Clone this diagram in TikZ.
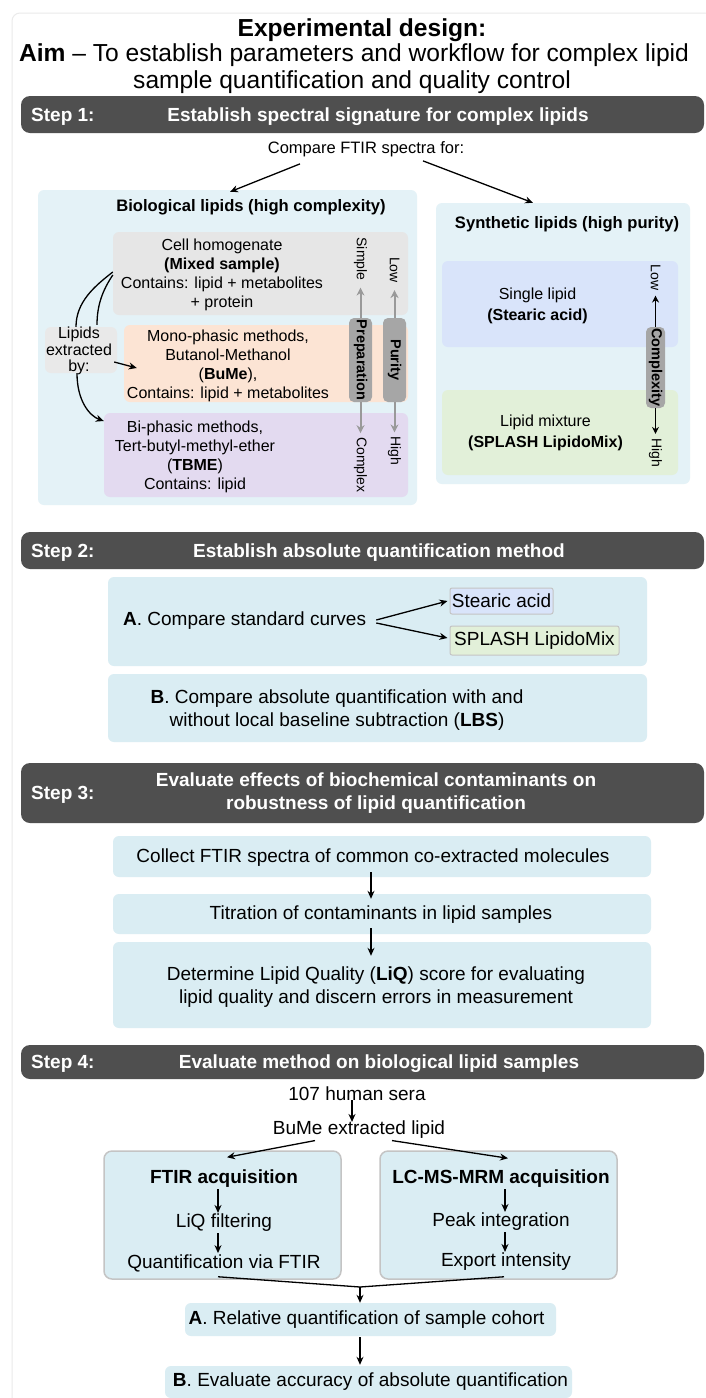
\documentclass[tikz,border=0pt]{standalone}
\usepackage{fontspec}
\setmainfont{Liberation Sans}
\usetikzlibrary{arrows.meta}
\definecolor{barc}{HTML}{4F4F4F}
\definecolor{stepbg}{HTML}{DAEDF3}
\definecolor{panelbg}{HTML}{E4F2F7}
\definecolor{cellbg}{HTML}{E6E6E6}
\definecolor{extbg}{HTML}{E9E9E9}
\definecolor{orangebg}{HTML}{FCE4D4}
\definecolor{purplebg}{HTML}{E3DAF0}
\definecolor{bluebg}{HTML}{D9E4FA}
\definecolor{greenbg}{HTML}{E2F0D9}
\definecolor{pillc}{HTML}{A6A6A6}
\definecolor{garrc}{HTML}{999999}
\definecolor{framec}{HTML}{EBEBEB}
\definecolor{boxline}{HTML}{C4C4C4}
\newcommand\fsTitle{\fontsize{24.6}{27}\selectfont}
\newcommand\fsBar{\fontsize{19}{23}\selectfont}
\newcommand\fsOne{\fontsize{16}{19}\selectfont}
\newcommand\fsPanel{\fontsize{16.6}{19}\selectfont}
\newcommand\fsCmp{\fontsize{16.5}{19}\selectfont}
\newcommand\fsMain{\fontsize{19}{23.5}\selectfont}
\newcommand\fsPill{\fontsize{14.5}{16}\selectfont}
\newcommand\fsSide{\fontsize{14}{16}\selectfont}
\begin{document}
\begin{tikzpicture}[x=1pt,y=-1pt,
  bar/.style={fill=barc, rounded corners=9pt, inner sep=0pt},
  bartxt/.style={text=white, font=\fsBar\bfseries, inner sep=0pt, align=center},
  panel/.style={fill=panelbg, rounded corners=6pt, inner sep=0pt},
  flat/.style={rounded corners=6pt, inner sep=0pt},
  txt/.style={inner sep=0pt, align=center},
  arr/.style={-{Stealth[length=8pt,width=7pt]}, line width=1.3pt},
  garr/.style={-{Stealth[length=8pt,width=8pt]}, draw=garrc, line width=2pt},
  karr/.style={-{Stealth[length=7pt,width=7pt]}, line width=1.6pt},
  pill/.style={fill=pillc, rounded corners=5pt, font=\fsPill\bfseries, inner sep=0pt},
  side/.style={font=\fsSide, inner sep=0pt, rotate=-90},
]
\useasboundingbox (0,0) rectangle (705,1398);
\fill[white] (0,0) rectangle (705,1398);
\draw[framec, line width=1pt, rounded corners=8pt] (12,13) rectangle (740,1430);

% ---------- title ----------
\node[txt, font=\fsTitle\bfseries] (title) at (362,30) {Experimental design:};
\node[txt, font=\fsTitle] (aim) at (354,55) {\textbf{Aim} – To establish parameters and workflow for complex lipid};
\node[txt, font=\fsTitle] (aim2) at (352,82) {sample quantification and quality control};

% ---------- step 1 ----------
\node[bar, minimum width=683pt, minimum height=37pt] (bar1) at (362.5,114.5) {};
\node[bartxt, anchor=west] (s1) at (31,116.5) {Step 1:};
\node[bartxt] (t1) at (378,116.5) {Establish spectral signature for complex lipids};
\node[txt, font=\fsCmp] (cmp) at (366,149) {Compare FTIR spectra for:};

\node[panel, minimum width=379pt, minimum height=315pt] (bio) at (227.5,347.5) {};
\node[panel, minimum width=254pt, minimum height=281pt] (syn) at (563,343.5) {};
\draw[arr] ([xshift=-66pt,yshift=-7pt]cmp.south) -- ([xshift=2.5pt,yshift=-2pt]bio.north);
\draw[arr] ([xshift=57pt,yshift=-4pt]cmp.south) -- ([xshift=-30pt]syn.north);

\node[txt, font=\fsPanel\bfseries] (biot) at (251,207) {Biological lipids (high complexity)};
\node[txt, font=\fsPanel\bfseries] (synt) at (567,224) {Synthetic lipids (high purity)};

\node[flat, fill=cellbg, minimum width=295pt, minimum height=83pt] (cell) at (260.5,273.5) {};
\node[flat, fill=orangebg, minimum width=284pt, minimum height=77pt] (mono) at (266,363.5) {};
\node[flat, fill=purplebg, minimum width=304pt, minimum height=84pt] (bi) at (256,455) {};
\node[flat, fill=extbg, minimum width=72pt, minimum height=46pt] (ext) at (81,350) {};

\node[txt, font=\fsOne] (cellt) at (222,275) {Cell homogenate\\\textbf{(Mixed sample)}\\Contains: lipid + metabolites\\+ protein};
\node[txt, font=\fsOne] (monot) at (228,366) {Mono-phasic methods,\\Butanol-Methanol\\(\textbf{BuMe}),\\Contains: lipid + metabolites};
\node[txt, font=\fsOne] (bit) at (195,456.5) {Bi-phasic methods,\\Tert-butyl-methyl-ether\\(\textbf{TBME})\\Contains: lipid};
\node[txt, font=\fontsize{16}{16.5}\selectfont] (extt) at (79,351) {Lipids\\extracted\\by:};

\draw[line width=1.3pt] ([yshift=1.5pt]cell.west) .. controls +(-18,14) and +(0,-25) .. ([xshift=-5pt]ext.north);
\draw[line width=1.3pt] ([yshift=-1.5pt]cell.west) .. controls +(-10,15) and +(0,-20) .. ([xshift=16pt,yshift=2pt]ext.north);
\draw[arr] ([xshift=-3pt,yshift=-12pt]ext.east) -- ([xshift=13pt,yshift=-4.5pt]mono.west);
\draw[arr] ([xshift=-4pt]ext.south) .. controls +(0,28) and +(-14,-5) .. ([yshift=34pt]bi.west);

\node[pill, rotate=-90, minimum width=84pt, minimum height=23pt] (prep) at (360.5,360) {Preparation};
\node[pill, rotate=-90, minimum width=84pt, minimum height=23pt] (pur) at (394.5,360) {Purity};
\node[side] (simp) at (360.5,259) {Simple};
\node[side] (cplx) at (360.5,465) {Complex};
\node[side] (low1) at (394.5,270) {Low};
\node[side] (high1) at (394.5,451) {High};
\draw[garr, shorten >=7pt] (prep.west) -- (simp.east);
\draw[garr, shorten >=4pt] (prep.east) -- (cplx.west);
\draw[garr, shorten >=7pt] (pur.west) -- (low1.east);
\draw[garr, shorten >=4pt] (pur.east) -- (high1.west);

\node[flat, fill=bluebg, minimum width=236pt, minimum height=86pt] (single) at (560,304) {};
\node[flat, fill=greenbg, minimum width=236pt, minimum height=85pt] (mix) at (560,432.5) {};
\node[txt, font=\fontsize{16}{20.5}\selectfont] (singlet) at (537.5,306) {Single lipid\\\textbf{(Stearic acid)}};
\node[txt, font=\fontsize{16}{20.5}\selectfont] (mixt) at (545.5,433) {Lipid mixture\\\textbf{(SPLASH LipidoMix)}};
\node[pill, rotate=-90, minimum width=81pt, minimum height=19pt] (cpx) at (655.5,367.5) {Complexity};
\node[side] (low2) at (655.5,277.5) {Low};
\node[side] (high2) at (655.5,452.5) {High};
\draw[karr, shorten >=5pt] (cpx.west) -- (low2.east);
\draw[karr, shorten >=4pt] (cpx.east) -- (high2.west);

% ---------- step 2 ----------
\node[bar, minimum width=683pt, minimum height=37pt] (bar2) at (362.5,550.5) {};
\node[bartxt, anchor=west] (s2) at (31,552.5) {Step 2:};
\node[bartxt] (t2) at (379,552.5) {Establish absolute quantification method};

\node[flat, fill=stepbg, minimum width=539pt, minimum height=89pt] (boxA) at (377.5,621.5) {};
\node[txt, font=\fsMain, anchor=west] (cmpA) at (123,621) {\textbf{A}. Compare standard curves};
\node[fill=bluebg, draw=boxline, line width=1pt, rounded corners=2pt, inner sep=1pt, font=\fsMain, minimum width=103pt, minimum height=26pt] (stear) at (501.5,601) {Stearic acid};
\node[fill=greenbg, draw=boxline, line width=1pt, rounded corners=2pt, inner sep=1pt, font=\fsMain, minimum width=169pt, minimum height=29pt] (splash) at (534.5,640.5) {SPLASH LipidoMix};
\draw[arr] ([xshift=10pt,yshift=1pt]cmpA.east) -- ([xshift=-2pt]stear.west);
\draw[arr] ([xshift=10pt,yshift=-2pt]cmpA.east) -- ([xshift=-2pt,yshift=2.5pt]splash.west);

\node[flat, fill=stepbg, minimum width=539pt, minimum height=68pt] (boxB) at (377.5,708) {};
\node[txt, font=\fsMain] (cmpB) at (337,710) {\textbf{B}. Compare absolute quantification with and\\without local baseline subtraction (\textbf{LBS})};

% ---------- step 3 ----------
\node[bar, minimum width=683pt, minimum height=60pt] (bar3) at (362.5,793) {};
\node[bartxt, anchor=west] (s3) at (31,795) {Step 3:};
\node[bartxt] (t3) at (376,793.5) {Evaluate effects of biochemical contaminants on\\robustness of lipid quantification};

\node[flat, fill=stepbg, minimum width=538pt, minimum height=41pt] (coll) at (382,856.5) {};
\node[txt, font=\fsMain] (collt) at (373,858) {Collect FTIR spectra of common co-extracted molecules};
\node[flat, fill=stepbg, minimum width=538pt, minimum height=40pt] (titr) at (382,914) {};
\node[txt, font=\fsMain] (titrt) at (381,915) {Titration of contaminants in lipid samples};
\node[flat, fill=stepbg, minimum width=538pt, minimum height=86pt] (det) at (382,985) {};
\node[txt, font=\fsMain] (dett) at (376,987) {Determine Lipid Quality (\textbf{LiQ}) score for evaluating\\lipid quality and discern errors in measurement};
\draw[arr] ([xshift=-11pt,yshift=5pt]coll.south) -- ([xshift=-11pt,yshift=-5pt]titr.north);
\draw[arr] ([xshift=-11pt,yshift=6pt]titr.south) -- ([xshift=-11pt,yshift=-14pt]det.north);

% ---------- step 4 ----------
\node[bar, minimum width=683pt, minimum height=34pt] (bar4) at (362.5,1062) {};
\node[bartxt, anchor=west] (s4) at (31,1064) {Step 4:};
\node[bartxt] (t4) at (379,1064) {Evaluate method on biological lipid samples};

\node[txt, font=\fsMain] (sera) at (357,1094) {107 human sera};
\node[txt, font=\fsMain] (bume) at (359,1130) {BuMe extracted lipid};
\draw[arr] ([xshift=-5pt,yshift=1pt]sera.south) -- ([xshift=-7pt,yshift=-1pt]bume.north);

\node[flat, fill=stepbg, draw=boxline, line width=1.5pt, rounded corners=8pt, minimum width=237pt, minimum height=128pt] (ftirb) at (222.5,1215) {};
\node[flat, fill=stepbg, draw=boxline, line width=1.5pt, rounded corners=8pt, minimum width=237pt, minimum height=128pt] (lcb) at (498.5,1215) {};
\draw[arr] ([xshift=-44pt,yshift=-1.5pt]bume.south) -- ([xshift=4.5pt,yshift=-7pt]ftirb.north);
\draw[arr] ([xshift=33pt,yshift=-1.5pt]bume.south) -- ([xshift=9.5pt,yshift=-8pt]lcb.north);

\node[txt, font=\fsMain\bfseries] (ft1) at (224,1179) {FTIR acquisition};
\node[txt, font=\fsMain] (ft2) at (224,1223) {LiQ filtering};
\node[txt, font=\fsMain] (ft3) at (224,1263) {Quantification via FTIR};
\draw[arr] ([xshift=-6pt,yshift=-1pt]ft1.south) -- ([xshift=-6pt,yshift=1pt]ft2.north);
\draw[arr] ([xshift=-6pt,yshift=-1pt]ft2.south) -- ([xshift=-6pt,yshift=1pt]ft3.north);

\node[txt, font=\fsMain\bfseries] (lc1) at (501,1179) {LC-MS-MRM acquisition};
\node[txt, font=\fsMain] (lc2) at (501,1222) {Peak integration};
\node[txt, font=\fsMain] (lc3) at (506,1262) {Export intensity};
\draw[arr] ([xshift=4pt,yshift=-1pt]lc1.south) -- ([xshift=4pt,yshift=1pt]lc2.north);
\draw[arr] ([xshift=4pt,yshift=-1pt]lc2.south) -- ([xshift=-1pt,yshift=1pt]lc3.north);

\coordinate (mj) at (360,1287);
\node[flat, fill=stepbg, minimum width=371pt, minimum height=33pt] (resA) at (370.5,1319.5) {};
\node[txt, font=\fsMain] (resAt) at (366.5,1320) {\textbf{A}. Relative quantification of sample cohort};
\node[flat, fill=stepbg, minimum width=407pt, minimum height=32pt] (resB) at (368.5,1382) {};
\node[txt, font=\fsMain] (resBt) at (370.5,1382) {\textbf{B}. Evaluate accuracy of absolute quantification};

\draw[line width=1.3pt] ([xshift=-4.5pt,yshift=3pt]ftirb.south) -- (mj);
\draw[line width=1.3pt] ([xshift=5.5pt,yshift=3pt]lcb.south) -- (mj);
\draw[arr] (mj) -- ([xshift=-10.5pt]resA.north);
\draw[arr] ([xshift=-10.5pt,yshift=-1pt]resA.south) -- ([xshift=-8.5pt,yshift=1pt]resB.north);
\end{tikzpicture}
\end{document}
